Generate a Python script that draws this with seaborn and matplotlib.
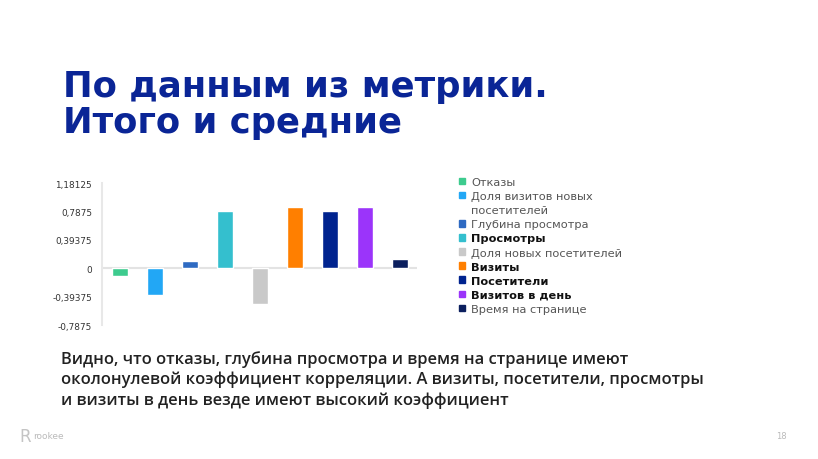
import matplotlib
matplotlib.use("Agg")
import matplotlib.pyplot as plt
from matplotlib.patches import Patch
import seaborn as sns
import pandas as pd

# data
metrics = ['Отказы', 'Доля визитов новых', 'Глубина просмотра', 'Просмотры',
           'Доля новых посетителей', 'Визиты', 'Посетители', 'Визитов в день', 'Время на странице']
corr = [-0.10, -0.375, 0.10, 0.79, -0.50, 0.85, 0.79, 0.85, 0.135]
colors = ['#3DCB8E', '#22A7F5', '#2E6AC2', '#34BFCE', '#C9C9C9', '#FF7F00', '#00238F', '#9B34FA', '#0B1F5E']
bold = [False, False, False, True, False, True, True, True, False]
yticks = [-0.7875, -0.39375, 0, 0.39375, 0.7875, 1.18125]
ytick_labels = ['-0,7875', '-0,39375', '0', '0,39375', '0,7875', '1,18125']

df = pd.DataFrame({'metric': metrics, 'corr': corr})

sns.set_theme(style='white')
plt.rcParams['font.family'] = ['DejaVu Sans']

fig = plt.figure(figsize=(8.18, 4.6), dpi=100)
ax = fig.add_axes([0.1243, 0.291, 0.386, 0.309])

sns.barplot(data=df, x='metric', y='corr', hue='metric', palette=colors,
            legend=False, width=0.46, ax=ax, saturation=1)

ax.set_xlim(-0.52, 8.5)
ax.set_ylim(-0.7875, 1.18125)
ax.set_yticks(yticks)
ax.set_yticklabels(ytick_labels, fontsize=6.4, color='#333333')
ax.set_xticks([])
ax.set_xlabel('')
ax.set_ylabel('')
ax.tick_params(axis='y', length=0, pad=7)
ax.axhline(0, color='#E3E3E3', lw=1.5, zorder=0)
for s in ['top', 'right', 'bottom']:
    ax.spines[s].set_visible(False)
ax.spines['left'].set_color('#E8E8E8')
ax.spines['left'].set_linewidth(1.5)

# legend (second line of the long label as its own row without a marker)
handles = [Patch(color=c) for c in colors]
labels = list(metrics)
weights = list(bold)
handles.insert(2, Patch(color='none'))
labels.insert(2, 'посетителей')
weights.insert(2, False)
leg = fig.legend(handles, labels, loc='upper left', bbox_to_anchor=(0.556, 0.623),
                 frameon=False, fontsize=8.2, handlelength=0.5, handleheight=0.5,
                 handletextpad=0.55, labelspacing=0.36, borderaxespad=0)
for t, b in zip(leg.get_texts(), weights):
    t.set_color('#111111' if b else '#555555')
    t.set_fontweight('bold' if b else 'normal')

# title and text
fig.text(0.077, 0.847, 'По данным из метрики.\nИтого и средние', fontsize=25.5, fontweight='bold',
         color='#0A2596', va='top', ha='left', linespacing=1.065)
fig.text(0.075, 0.237,
         'Видно, что отказы, глубина просмотра и время на странице имеют\n'
         'околонулевой коэффициент корреляции. А визиты, посетители, просмотры\n'
         'и визиты в день везде имеют высокий коэффициент',
         fontsize=11.9, fontweight='semibold', family='Open Sans', color='#222222',
         va='top', ha='left', linespacing=1.33)

fig.text(0.024, 0.05, 'R', fontsize=12, color='#C4C4C4', va='center', ha='left')
fig.text(0.041, 0.05, 'rookee', fontsize=6.5, color='#BBBBBB', va='center', ha='left')
fig.text(0.962, 0.05, '18', fontsize=6, color='#BBBBBB', va='center', ha='right')

fig.savefig('out.png', dpi=100)
